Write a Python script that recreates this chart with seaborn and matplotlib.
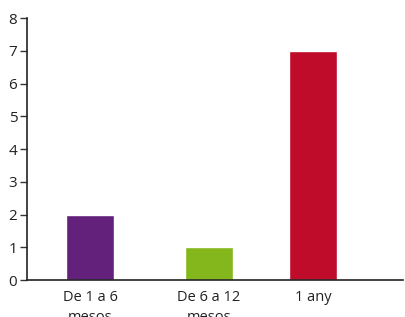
import matplotlib
matplotlib.use("Agg")
import matplotlib.pyplot as plt
import seaborn as sns
import pandas as pd

categories = ["De 1 a 6\nmesos", "De 6 a 12\nmesos", "1 any"]
values = [2, 1, 7]
colors = ["#63217b", "#84b71b", "#c00c2b"]

# layout (axis units)
positions = [63, 182, 286]
bar_width = 48

sns.set_theme(style="white")
plt.rcParams['font.family'] = ['Open Sans', 'DejaVu Sans']

fig = plt.figure(figsize=(4.06, 3.17), dpi=100)
ax = fig.add_axes([27/406, 37/317, 376/406, (280-18)/317])

df = pd.DataFrame({"pos": positions, "val": values, "cat": categories})
min_gap = min(b - a for a, b in zip(positions, positions[1:]))
sns.barplot(data=df, x="pos", y="val", hue="cat", palette=colors, native_scale=True,
            width=bar_width / min_gap, dodge=False, legend=False, ax=ax, saturation=1)

ax.set_xlim(0, 376)
ax.set_ylim(0, 8)
ax.set_yticks(range(0, 9))
ax.set_xticks(positions)
ax.set_xticklabels(categories, fontsize=10.5, color="#222222", linespacing=1.45)
ax.tick_params(axis="y", left=True, length=5, width=1, color="#333333", labelsize=11,
               labelcolor="#222222", pad=2)
ax.tick_params(axis="x", bottom=False, pad=1)
ax.set_xlabel("")
ax.set_ylabel("")
for s in ["top", "right"]:
    ax.spines[s].set_visible(False)
for s in ["left", "bottom"]:
    ax.spines[s].set_color("#222222")
    ax.spines[s].set_linewidth(1.2)

fig.savefig("out.png", dpi=100)
